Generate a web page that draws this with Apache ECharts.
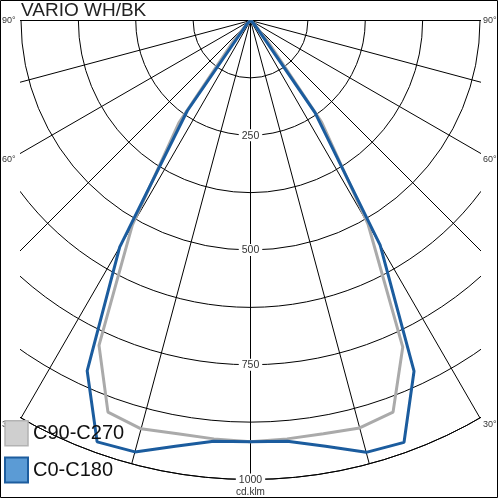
<!DOCTYPE html>
<html><head><meta charset="utf-8">
<script src="https://cdn.jsdelivr.net/npm/echarts@6/dist/echarts.min.js"></script>
<style>html,body{margin:0;padding:0;background:#fff}#c{width:500px;height:500px}</style>
</head><body><div id="c"></div>
<script>
// ---- data ----
const titleText = 'VARIO WH/BK';
const unitLabel = 'cd.klm';
const seriesNames = ['C90-C270', 'C0-C180'];
const gammas = [0, 5, 10, 15, 20, 25, 30, 35, 40, 45, 50, 55, 60, 65, 70, 75, 80, 85, 90];
// C0-C180 plane (blue): C0 drawn on the right, C180 on the left
const c0   = [918, 920, 942, 974, 978, 843, 565, 245, 24, 10, 5, 3, 2, 1, 1, 0, 0, 0, 0];
const c180 = [918, 920, 942, 973, 977, 842, 570, 240, 22, 10, 5, 3, 2, 1, 1, 0, 0, 0, 0];
// C90-C270 plane (grey): C90 on the right, C270 on the left
const c90  = [918, 915, 914, 919, 908, 785, 512, 270, 55, 12, 5, 3, 2, 1, 1, 0, 0, 0, 0];
const c270 = [918, 915, 914, 921, 908, 781, 515, 272, 55, 12, 5, 3, 2, 1, 1, 0, 0, 0, 0];
const radiusLabels = [250, 500, 750, 1000];
const sideAngleLabels = ['90°', '60°', '30°'];

// ---- build ----
const FONT = '"Liberation Sans", Arial, sans-serif';
function curve(leftVals, rightVals) {
  const pts = [];
  for (let i = gammas.length - 1; i >= 0; i--) pts.push([leftVals[i], gammas[i]]);
  for (let i = 1; i < gammas.length; i++) pts.push([rightVals[i], 360 - gammas[i]]);
  return pts;
}
const CX = 250.5, CY = 20.5, R = 459;
const sideLabelY = [21, 159.5, 425];

const graphics = [
  {type: 'rect', z: 10, silent: true, shape: {x: 0, y: 0, width: 20, height: 500}, style: {fill: '#fff'}},
  {type: 'rect', z: 10, silent: true, shape: {x: 481, y: 0, width: 19, height: 500}, style: {fill: '#fff'}},
  {type: 'rect', z: 10, silent: true, shape: {x: 0, y: 0, width: 500, height: 20}, style: {fill: '#fff'}},
  {type: 'text', z: 20, x: 21, y: 11, style: {text: titleText, font: '19px ' + FONT, fill: '#222', verticalAlign: 'middle', align: 'left'}},
  {type: 'rect', z: 30, silent: true, shape: {x: 0.5, y: 0.5, width: 497, height: 497}, style: {fill: 'none', stroke: '#000', lineWidth: 1}}
];
sideAngleLabels.forEach((t, i) => {
  graphics.push({type: 'text', z: 20, x: 2, y: sideLabelY[i], style: {text: t, font: '9px ' + FONT, fill: '#333', verticalAlign: 'middle', align: 'left'}});
  graphics.push({type: 'text', z: 20, x: 483, y: sideLabelY[i], style: {text: t, font: '9px ' + FONT, fill: '#333', verticalAlign: 'middle', align: 'left'}});
});

const chart = echarts.init(document.getElementById('c'), null, {renderer: 'canvas'});
chart.setOption({
  animation: false,
  backgroundColor: '#fff',
  polar: {center: [CX, CY], radius: R},
  angleAxis: {
    type: 'value', min: 0, max: 360, interval: 15, startAngle: 270, clockwise: true, z: 1,
    axisLine: {show: true, lineStyle: {color: '#000', width: 1}},
    axisTick: {show: false}, axisLabel: {show: false},
    splitLine: {show: true, lineStyle: {color: '#000', width: 1}}
  },
  radiusAxis: {
    type: 'value', min: 0, max: 1000, interval: 125, z: 2,
    axisLine: {show: false}, axisTick: {show: false},
    splitLine: {show: true, lineStyle: {color: '#000', width: 1}},
    axisLabel: {
      show: true, margin: 0, align: 'center', verticalAlign: 'middle',
      formatter: v => radiusLabels.indexOf(v) >= 0 ? '{a|' + v + '}' : '',
      rich: {a: {fontSize: 10.5, fontFamily: FONT, color: '#333', backgroundColor: '#fff', padding: [1, 3, 0, 3]}}
    },
    name: unitLabel, nameLocation: 'end', nameGap: 13, nameRotate: 0,
    nameTextStyle: {fontSize: 10, fontFamily: FONT, color: '#333', align: 'center', verticalAlign: 'middle'}
  },
  legend: {
    orient: 'vertical', left: 4, top: 420, z: 20, padding: 0,
    itemWidth: 23, itemHeight: 25, itemGap: 10, selectedMode: false,
    textStyle: {fontSize: 20, fontFamily: FONT, color: '#111'},
    data: [
      {name: seriesNames[0], icon: 'rect', itemStyle: {color: '#cfcfcf', borderColor: '#b3b3b3', borderWidth: 1.5}},
      {name: seriesNames[1], icon: 'rect', itemStyle: {color: '#5b9bd5', borderColor: '#1d5d9e', borderWidth: 2}}
    ]
  },
  graphic: graphics,
  series: [
    {name: seriesNames[0], type: 'line', coordinateSystem: 'polar', z: 4, symbol: 'none', smooth: false,
     lineStyle: {color: '#aaaaaa', width: 3}, itemStyle: {color: '#aaaaaa'}, data: curve(c270, c90)},
    {name: seriesNames[1], type: 'line', coordinateSystem: 'polar', z: 5, symbol: 'none', smooth: false,
     lineStyle: {color: '#1b5c9e', width: 3}, itemStyle: {color: '#1b5c9e'}, data: curve(c180, c0)}
  ]
});
</script></body></html>
